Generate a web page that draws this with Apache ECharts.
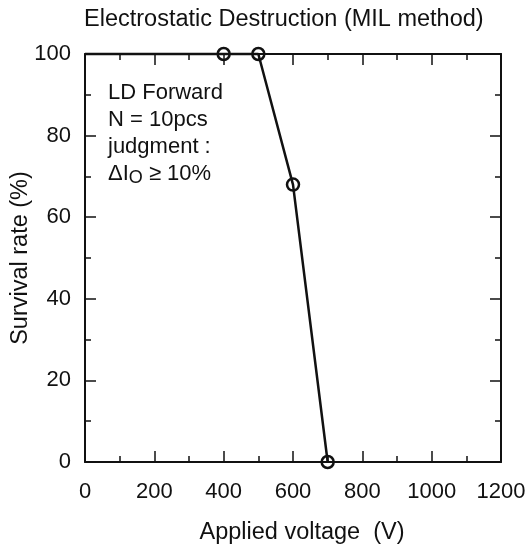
<!DOCTYPE html>
<html>
<head>
<meta charset="utf-8">
<script src="https://cdn.jsdelivr.net/npm/echarts@6/dist/echarts.min.js"></script>
<style>
html,body{margin:0;padding:0;background:#fff;}
#chart{width:529px;height:550px;}
</style>
</head>
<body>
<div id="chart"></div>
<script>
const titleText = 'Electrostatic Destruction (MIL method)';
const xAxisName = 'Applied voltage  (V)';
const yAxisName = 'Survival rate (%)';
const voltage = [0, 400, 500, 600, 700];
const survival = [100, 100, 100, 68, 0];
const measured = [false, true, true, true, true];
const noteLines = ['LD Forward', 'N = 10pcs', 'judgment :'];

const FONT = '"Liberation Sans", Arial, sans-serif';
const INK = '#111';
const FS = 22;
const FS_NAME = 23.5;

const chart = echarts.init(document.getElementById('chart'), null, {renderer: 'canvas'});

const baseAxis = {
  axisLine: {show: true, onZero: false, lineStyle: {color: INK, width: 2}},
  axisTick: {show: true, inside: true, length: 11, lineStyle: {color: INK, width: 1.5}},
  minorTick: {show: true, splitNumber: 2, length: 6, lineStyle: {color: INK, width: 1.5}},
  splitLine: {show: false},
  minorSplitLine: {show: false}
};

const option = {
  backgroundColor: '#fff',
  animation: false,
  title: {
    text: titleText,
    left: 79,
    top: 3,
    textStyle: {fontFamily: FONT, fontSize: FS_NAME, fontWeight: 'normal', color: INK}
  },
  grid: {left: 85, right: 28, top: 54, bottom: 88, containLabel: false, outerBoundsMode: 'none'},
  xAxis: [
    Object.assign({}, baseAxis, {
      type: 'value', min: 0, max: 1200, interval: 200, position: 'bottom',
      name: xAxisName, nameLocation: 'middle', nameGap: 59, nameMoveOverlap: false,
      nameTextStyle: {fontFamily: FONT, fontSize: FS_NAME, color: INK, padding: [0, 0, 0, 18]},
      axisLabel: {margin: 19, fontFamily: FONT, fontSize: FS, color: INK, formatter: v => String(v)}
    }),
    Object.assign({}, baseAxis, {
      type: 'value', min: 0, max: 1200, interval: 200, position: 'top',
      axisLabel: {show: false}
    })
  ],
  yAxis: [
    Object.assign({}, baseAxis, {
      type: 'value', min: 0, max: 100, interval: 20, position: 'left',
      name: yAxisName, nameLocation: 'middle', nameGap: 52, nameRotate: 90, nameMoveOverlap: false,
      nameTextStyle: {fontFamily: FONT, fontSize: FS_NAME, color: INK},
      axisLabel: {margin: 14, fontFamily: FONT, fontSize: FS, color: INK, formatter: v => String(v)}
    }),
    Object.assign({}, baseAxis, {
      type: 'value', min: 0, max: 100, interval: 20, position: 'right',
      axisLabel: {show: false}
    })
  ],
  graphic: [{
    type: 'text',
    left: 108,
    top: 82,
    z: 10,
    style: {
      text: noteLines.map(l => '{n|' + l + '}').join('\n') + '\n{n|ΔI}{sub|O}{n| ≥ 10%}',
      fill: INK,
      font: FS + 'px ' + FONT,
      rich: {
        n: {fontFamily: FONT, fontSize: FS, lineHeight: 27, fill: INK, verticalAlign: 'middle'},
        sub: {fontFamily: FONT, fontSize: 18, lineHeight: 18, fill: INK, verticalAlign: 'bottom'}
      }
    }
  }],
  series: [{
    type: 'line',
    xAxisIndex: 0,
    yAxisIndex: 0,
    clip: false,
    z: 5,
    data: voltage.map((v, i) => ({
      value: [v, survival[i]],
      symbol: measured[i] ? 'circle' : 'none'
    })),
    symbol: 'circle',
    symbolSize: 12,
    showAllSymbol: true,
    lineStyle: {color: INK, width: 2.5},
    itemStyle: {color: 'rgba(0,0,0,0)', borderColor: INK, borderWidth: 2.5}
  }]
};
chart.setOption(option);
</script>
</body>
</html>
